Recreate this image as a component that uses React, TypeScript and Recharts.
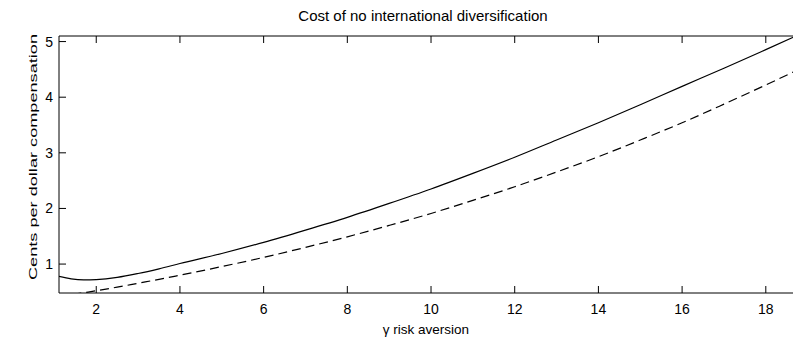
import { LineChart, Line, XAxis, YAxis } from "recharts";

const gamma = [1.1, 1.4, 1.7, 2, 2.5, 3, 3.5, 4, 5, 6, 7, 8, 9, 10, 11, 12, 13, 14, 15, 16, 17, 18, 18.65];
const solidCost = [0.78, 0.735, 0.717, 0.722, 0.76, 0.83, 0.915, 1.01, 1.19, 1.39, 1.61, 1.84, 2.09, 2.35, 2.63, 2.92, 3.23, 3.54, 3.865, 4.195, 4.52, 4.855, 5.075];
const dashedCost = [0.41, 0.45, 0.485, 0.52, 0.585, 0.655, 0.725, 0.8, 0.955, 1.12, 1.3, 1.49, 1.695, 1.91, 2.145, 2.39, 2.655, 2.93, 3.23, 3.54, 3.875, 4.22, 4.45];
const xTicks = [2, 4, 6, 8, 10, 12, 14, 16, 18];
const yTicks = [1, 2, 3, 4, 5];

const data = gamma.map((g, i) => ({ g, solid: solidCost[i], dashed: dashedCost[i] }));

const FONT = "'Liberation Sans', Arial, sans-serif";
const X_DOMAIN: [number, number] = [1.11, 18.65];
const Y_DOMAIN: [number, number] = [0.48, 5.1];

const noLabel = () => <g />;

export default function App() {
  return (
    <div style={{ position: "absolute", left: 0, top: 0, width: 793, height: 343, background: "#fff" }}>
      <div
        style={{
          position: "absolute",
          top: 7,
          left: 0,
          width: 846,
          textAlign: "center",
          fontFamily: FONT,
          fontSize: 15,
          color: "#000",
        }}
      >
        Cost of no international diversification
      </div>
      <svg width={60} height={343} style={{ position: "absolute", left: 0, top: 0 }}>
        <text
          transform="translate(33 157) rotate(-90)"
          textAnchor="middle"
          dominantBaseline="central"
          fontFamily={FONT}
          fontSize={11.5}
          textLength={246}
          lengthAdjust="spacingAndGlyphs"
          fill="#000"
        >
          Cents per dollar compensation
        </text>
      </svg>
      <LineChart width={793} height={343} data={data} margin={{ top: 36, right: 0, left: 0, bottom: 0 }}>
        {/* labelled axes; the inward tick marks come from the mirrored copies */}
        <XAxis
          dataKey="g"
          type="number"
          domain={X_DOMAIN}
          allowDataOverflow
          ticks={xTicks}
          tickLine={false}
          tickSize={0}
          tickMargin={11}
          tick={{ fontSize: 14, fontFamily: FONT, fill: "#000" }}
          axisLine={{ stroke: "#000" }}
          height={50}
          label={{ value: "γ risk aversion", position: "insideBottom", offset: 9, fontSize: 13.5, fontFamily: FONT, fill: "#000" }}
        />
        <XAxis
          xAxisId="bottomTicks"
          dataKey="g"
          type="number"
          domain={X_DOMAIN}
          allowDataOverflow
          ticks={xTicks}
          mirror
          tick={noLabel}
          tickLine={{ stroke: "#000" }}
          tickSize={7}
          axisLine={false}
          height={1}
        />
        <XAxis
          xAxisId="top"
          orientation="top"
          dataKey="g"
          type="number"
          domain={X_DOMAIN}
          allowDataOverflow
          ticks={xTicks}
          mirror
          tick={noLabel}
          tickLine={{ stroke: "#000" }}
          tickSize={7}
          axisLine={{ stroke: "#000" }}
          height={1}
        />
        <YAxis
          type="number"
          domain={Y_DOMAIN}
          allowDataOverflow
          ticks={yTicks}
          width={59}
          tickLine={false}
          tickSize={0}
          tickMargin={6}
          tick={{ fontSize: 14, fontFamily: FONT, fill: "#000" }}
          axisLine={{ stroke: "#000" }}
        />
        <YAxis
          yAxisId="leftTicks"
          type="number"
          domain={Y_DOMAIN}
          allowDataOverflow
          ticks={yTicks}
          mirror
          tick={noLabel}
          tickLine={{ stroke: "#000" }}
          tickSize={7}
          axisLine={false}
          width={1}
        />
        <Line type="monotone" dataKey="solid" stroke="#000" strokeWidth={1.2} dot={false} isAnimationActive={false} />
        <Line
          type="monotone"
          dataKey="dashed"
          stroke="#000"
          strokeWidth={1.2}
          strokeDasharray="9 5"
          dot={false}
          isAnimationActive={false}
        />
      </LineChart>
    </div>
  );
}
